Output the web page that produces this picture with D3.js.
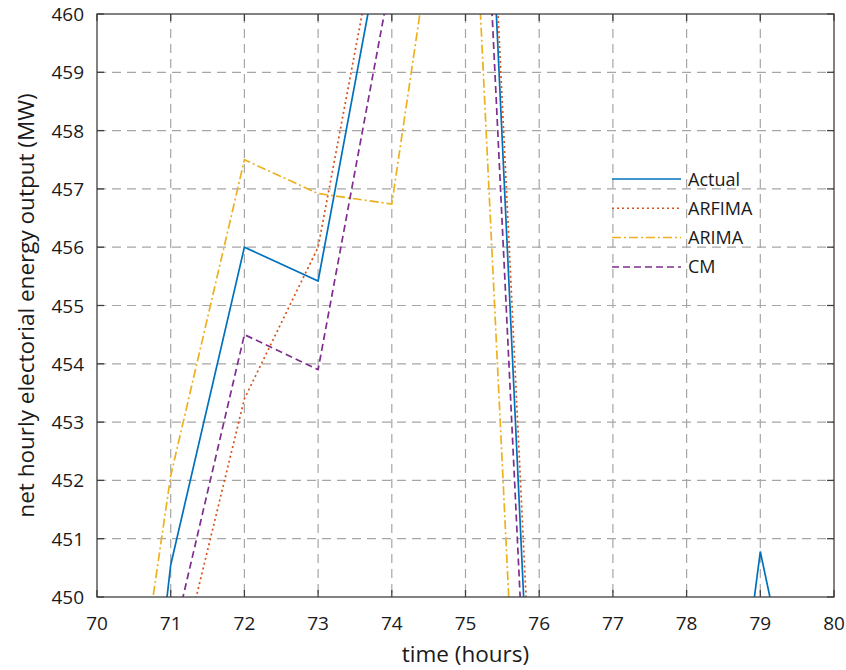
<!DOCTYPE html>
<html>
<head><meta charset="utf-8"/>
<script src="https://d3js.org/d3.v7.min.js"></script>
<style>
body { margin: 0; background: #fff; }
svg { font-family: "Open Sans", sans-serif; }
.grid line { stroke: #a6a6a6; stroke-width: 1.2; stroke-dasharray: 9,6; }
.tick-label { font-size: 19px; fill: #1a1a1a; }
.axis-title { font-size: 22.5px; fill: #1a1a1a; }
.legend text { font-size: 18px; fill: #1a1a1a; }
</style>
</head>
<body>
<div id="chart"></div>
<script>
// hours and forecasts (values off the plot are estimated from line slopes)
var hours  = [70, 71, 72, 73, 74, 75, 76, 77, 78, 79, 80];
var actual = [439.5, 450.55, 456.0, 455.42, 462.2, 471.3, 444.3, 442, 441, 450.78, 444.8];
var arfima = [440, 448.2, 453.4, 456.0, 462.7, 471.6, 445.3, 441, 440, 443, 442];
var arima  = [443.4, 452.08, 457.5, 456.92, 456.74, 465.3, 439.2, 440, 441, 442, 441];
var cm     = [441, 449.1, 454.5, 453.9, 460.7, 469.5, 443.2, 440, 441, 443, 442];

var seriesNames = ["Actual", "ARFIMA", "ARIMA", "CM"];
var xTicks = d3.range(70, 81, 1);
var yTicks = d3.range(450, 461, 1);

var width = 846, height = 670;
var plot = {left: 97, right: 834, top: 14, bottom: 597};

var svg = d3.select("#chart").append("svg")
    .attr("width", width)
    .attr("height", height);

var x = d3.scaleLinear().domain([70, 80]).range([plot.left, plot.right]);
var y = d3.scaleLinear().domain([450, 460]).range([plot.bottom, plot.top]);

// grid
var grid = svg.append("g").attr("class", "grid");
grid.selectAll(".gx").data(xTicks.slice(1, -1)).enter().append("line")
    .attr("x1", d => x(d)).attr("x2", d => x(d))
    .attr("y1", plot.top).attr("y2", plot.bottom);
grid.selectAll(".gy").data(yTicks.slice(1, -1)).enter().append("line")
    .attr("y1", d => y(d)).attr("y2", d => y(d))
    .attr("x1", plot.left).attr("x2", plot.right);

svg.append("clipPath").attr("id", "clip")
  .append("rect")
    .attr("x", plot.left).attr("y", plot.top)
    .attr("width", plot.right - plot.left)
    .attr("height", plot.bottom - plot.top);

var styles = [
    {data: actual, color: "#0072BD", dash: null},
    {data: arfima, color: "#D95319", dash: "2,3"},
    {data: arima,  color: "#EDB120", dash: "9,3,2,3"},
    {data: cm,     color: "#7E2F8E", dash: "7,4"}
];

var line = d3.line()
    .x((d, i) => x(hours[i]))
    .y(d => y(d));

var lines = svg.append("g").attr("clip-path", "url(#clip)");
styles.forEach(function(s) {
    lines.append("path")
        .attr("d", line(s.data))
        .attr("fill", "none")
        .attr("stroke", s.color)
        .attr("stroke-width", 1.7)
        .attr("stroke-dasharray", s.dash);
});

// axes box with inward ticks
var axisColor = "#404040";
svg.append("rect")
    .attr("x", plot.left).attr("y", plot.top)
    .attr("width", plot.right - plot.left)
    .attr("height", plot.bottom - plot.top)
    .attr("fill", "none")
    .attr("stroke", axisColor)
    .attr("stroke-width", 1.3);

var tk = 7;
var ticks = svg.append("g").attr("stroke", axisColor).attr("stroke-width", 1.3);
xTicks.forEach(function(t) {
    ticks.append("line").attr("x1", x(t)).attr("x2", x(t)).attr("y1", plot.bottom).attr("y2", plot.bottom - tk);
    ticks.append("line").attr("x1", x(t)).attr("x2", x(t)).attr("y1", plot.top).attr("y2", plot.top + tk);
});
yTicks.forEach(function(t) {
    ticks.append("line").attr("y1", y(t)).attr("y2", y(t)).attr("x1", plot.left).attr("x2", plot.left + tk);
    ticks.append("line").attr("y1", y(t)).attr("y2", y(t)).attr("x1", plot.right).attr("x2", plot.right - tk);
});

svg.selectAll(".xl").data(xTicks).enter().append("text")
    .attr("class", "tick-label")
    .attr("x", d => x(d))
    .attr("y", 630)
    .attr("text-anchor", "middle")
    .text(d => d);

svg.selectAll(".yl").data(yTicks).enter().append("text")
    .attr("class", "tick-label")
    .attr("x", 84)
    .attr("y", d => y(d) + 7)
    .attr("text-anchor", "end")
    .text(d => d);

svg.append("text")
    .attr("class", "axis-title")
    .attr("x", (plot.left + plot.right) / 2)
    .attr("y", 662)
    .attr("text-anchor", "middle")
    .text("time (hours)");

svg.append("text")
    .attr("class", "axis-title")
    .attr("transform", "translate(34," + ((plot.top + plot.bottom) / 2) + ") rotate(-90)")
    .attr("text-anchor", "middle")
    .text("net hourly electorial energy output (MW)");

// legend (no box)
var legend = svg.append("g").attr("class", "legend");
styles.forEach(function(s, i) {
    var ly = 179 + i * 29.3;
    legend.append("line")
        .attr("x1", 612).attr("x2", 681)
        .attr("y1", ly).attr("y2", ly)
        .attr("stroke", s.color)
        .attr("stroke-width", 1.5)
        .attr("stroke-dasharray", s.dash);
    legend.append("text")
        .attr("x", 688)
        .attr("y", ly + 6.5)
        .text(seriesNames[i]);
});
</script>
</body>
</html>
